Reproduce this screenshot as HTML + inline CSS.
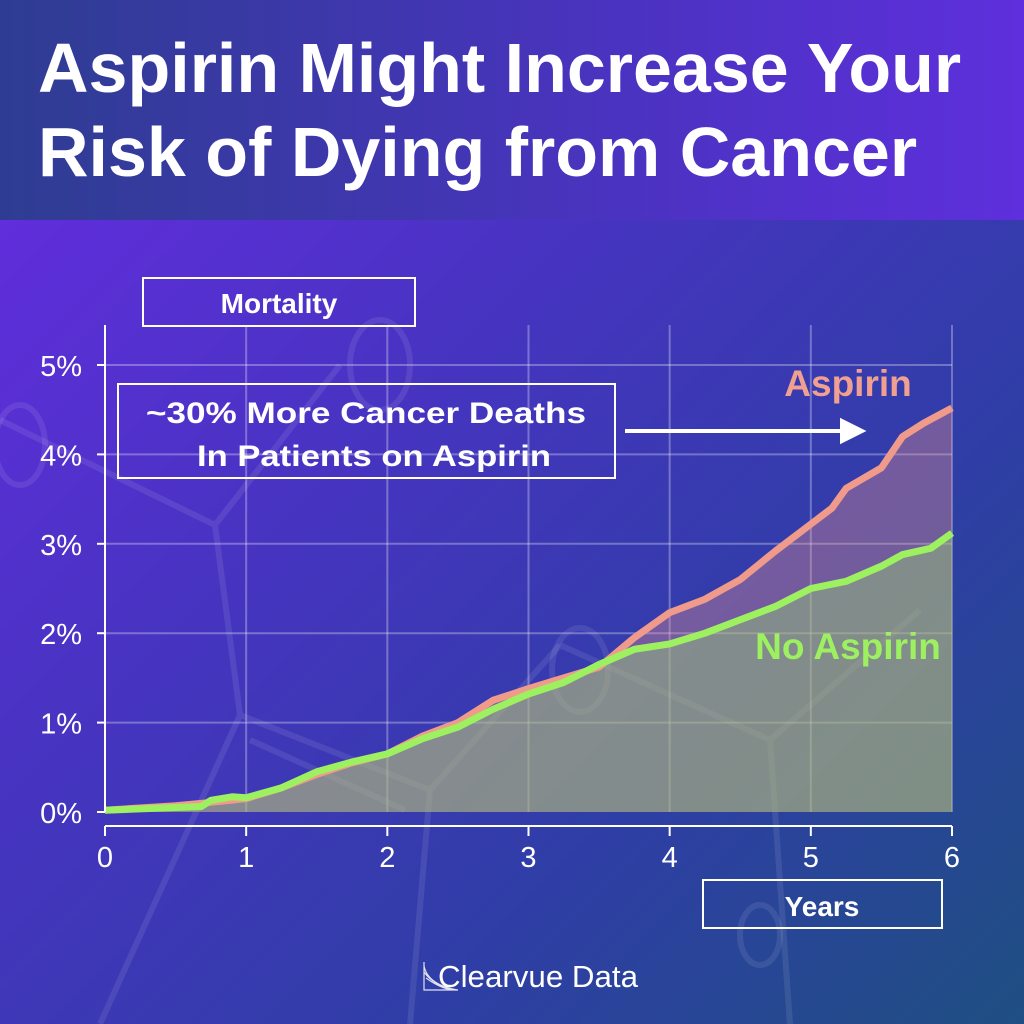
<!DOCTYPE html>
<html><head><meta charset="utf-8"><style>
html,body{margin:0;padding:0}
body{width:1024px;height:1024px;overflow:hidden;font-family:"Liberation Sans",sans-serif;position:relative;
background:linear-gradient(135deg,#6a2be6 0%,#4634c0 40%,#2f3ea6 70%,#1f4f82 100%);}
#header{position:absolute;left:0;top:0;width:1024px;height:220px;background:linear-gradient(90deg,#2e3d92 0%,#4a33c0 60%,#5e2fdc 100%);}
#title{position:absolute;left:38px;top:26px;color:#fff;font-weight:bold;font-size:70px;line-height:84px;margin:0;white-space:nowrap}
svg{position:absolute;left:0;top:0}
</style></head><body>
<div id="header"><h1 id="title">Aspirin Might Increase Your<br>Risk of Dying from Cancer</h1></div>
<svg id="chart" width="1024" height="1024"></svg>
<script>
const xTicks=[0,1,2,3,4,5,6];
const yTicks=[0,1,2,3,4,5];
const aspX=[0,0.5,0.7,1,1.25,1.5,1.75,2,2.25,2.5,2.75,3,3.25,3.5,3.75,4,4.25,4.5,4.75,5,5.15,5.25,5.5,5.65,5.8,6];
const aspY=[0.02,0.07,0.1,0.15,0.27,0.42,0.55,0.65,0.85,1.0,1.25,1.38,1.5,1.62,1.95,2.23,2.38,2.6,2.92,3.22,3.4,3.62,3.85,4.2,4.35,4.52];
const noX=[0,0.5,0.68,0.75,0.9,1,1.25,1.5,1.75,2,2.25,2.5,2.75,3,3.25,3.5,3.75,4,4.25,4.5,4.75,5,5.25,5.5,5.65,5.85,6];
const noY=[0.02,0.05,0.06,0.13,0.17,0.16,0.27,0.45,0.56,0.65,0.82,0.95,1.15,1.32,1.45,1.65,1.82,1.88,2.0,2.15,2.3,2.5,2.58,2.75,2.88,2.95,3.12];
const NS="http://www.w3.org/2000/svg";
const svg=document.getElementById('chart');
const X0=105,X1=952,Y0=812,Y5=365;
const sx=v=>X0+(X1-X0)*v/6, sy=v=>Y0-(Y0-Y5)*v/5;
function mk(t,a,p){const e=document.createElementNS(NS,t);for(const k in a)e.setAttribute(k,a[k]);(p||svg).appendChild(e);return e;}
const mol=mk('g',{stroke:'rgba(255,255,255,0.09)','stroke-width':6,fill:'none'});


mk('path',{d:'M0,420 L215,525 L340,365 M215,525 L240,715 L100,1024 M240,715 L430,790 L560,645 M430,790 L410,1024 M250,740 L405,810 M560,645 L770,740 L920,610 M770,740 L790,1024'},mol);
mk('ellipse',{cx:380,cy:365,rx:30,ry:45},mol);mk('ellipse',{cx:580,cy:670,rx:28,ry:42},mol);
mk('ellipse',{cx:760,cy:935,rx:20,ry:30},mol);mk('ellipse',{cx:20,cy:445,rx:25,ry:40},mol);
xTicks.forEach(t=>{if(t>0){const l=mk('line',{x1:sx(t),x2:sx(t),y1:325,y2:Y0,stroke:'rgba(255,255,255,0.3)','stroke-width':2});
}});
yTicks.forEach(t=>{if(t>0){const l=mk('line',{x1:X0,x2:X1,y1:sy(t),y2:sy(t),stroke:'rgba(255,255,255,0.3)','stroke-width':2});
}});
function pts(xs,ys){return xs.map((x,i)=>sx(x)+','+sy(ys[i])).join(' ');}
const a1=mk('polygon',{points:pts(aspX,aspY)+' '+sx(6)+','+Y0+' '+sx(0)+','+Y0,fill:'rgba(240,150,140,0.35)'});

const a2=mk('polygon',{points:pts(noX,noY)+' '+sx(6)+','+Y0+' '+sx(0)+','+Y0,fill:'rgba(150,200,120,0.45)'});

const l1=mk('polyline',{points:pts(aspX,aspY),fill:'none',stroke:'#ef9a8a','stroke-width':7,'stroke-linejoin':'round'});

const l2=mk('polyline',{points:pts(noX,noY),fill:'none',stroke:'#9df060','stroke-width':7,'stroke-linejoin':'round'});

const ax=mk('path',{d:`M${X0},325 V${Y0} M${X0},${Y0+14} H${X1}`,stroke:'#fff','stroke-width':2,fill:'none'});

xTicks.forEach(t=>{mk('line',{x1:sx(t),x2:sx(t),y1:Y0+14,y2:Y0+24,stroke:'#fff','stroke-width':2});
const tx=mk('text',{x:sx(t),y:867,fill:'#fff','font-size':29,'text-anchor':'middle'});tx.textContent=t;
});
yTicks.forEach(t=>{mk('line',{x1:X0-8,x2:X0,y1:sy(t),y2:sy(t),stroke:'#fff','stroke-width':2});
const tx=mk('text',{x:82,y:sy(t)+11,fill:'#fff','font-size':29,'text-anchor':'end'});tx.textContent=t+'%';
});
function box(x,y,w,h,name){const r=mk('rect',{x:x,y:y,width:w,height:h,fill:'none',stroke:'#fff','stroke-width':2});
}
box(143,278,272,48,'y-axis-title-box');
let t=mk('text',{x:279,y:313,fill:'#fff','font-size':28,'font-weight':'bold','text-anchor':'middle'});t.textContent='Mortality';

box(703,880,239,48,'x-axis-title-box');
t=mk('text',{x:822,y:916,fill:'#fff','font-size':28,'font-weight':'bold','text-anchor':'middle'});t.textContent='Years';

box(118,384,497,94,'annotation-box');
t=mk('text',{x:366,y:423,fill:'#fff','font-size':30,'font-weight':'bold','text-anchor':'middle',textLength:440,lengthAdjust:'spacingAndGlyphs'});t.textContent='~30% More Cancer Deaths';

t=mk('text',{x:374,y:466,fill:'#fff','font-size':30,'font-weight':'bold','text-anchor':'middle',textLength:354,lengthAdjust:'spacingAndGlyphs'});t.textContent='In Patients on Aspirin';

const ar=mk('path',{d:'M625,431 H845 M842,421 L862,431 L842,441 Z',stroke:'#fff','stroke-width':4,fill:'#fff'});

t=mk('text',{x:848,y:396,fill:'#f0a090','font-size':37,'font-weight':'bold','text-anchor':'middle'});t.textContent='Aspirin';

t=mk('text',{x:848,y:659,fill:'#9df060','font-size':37,'font-weight':'bold','text-anchor':'middle'});t.textContent='No Aspirin';

const lg=mk('g',{stroke:'rgba(255,255,255,0.85)','stroke-width':1.2,fill:'none'});

mk('path',{d:'M424,962 V990 H458 M424,966 Q428,985 458,990 M424,972 Q434,986 456,990 M426,978 Q440,988 452,990'},lg);
t=mk('text',{x:438,y:987,fill:'#fff','font-size':31,textLength:200,lengthAdjust:'spacingAndGlyphs'});t.textContent='Clearvue Data';

</script>
</body></html>
